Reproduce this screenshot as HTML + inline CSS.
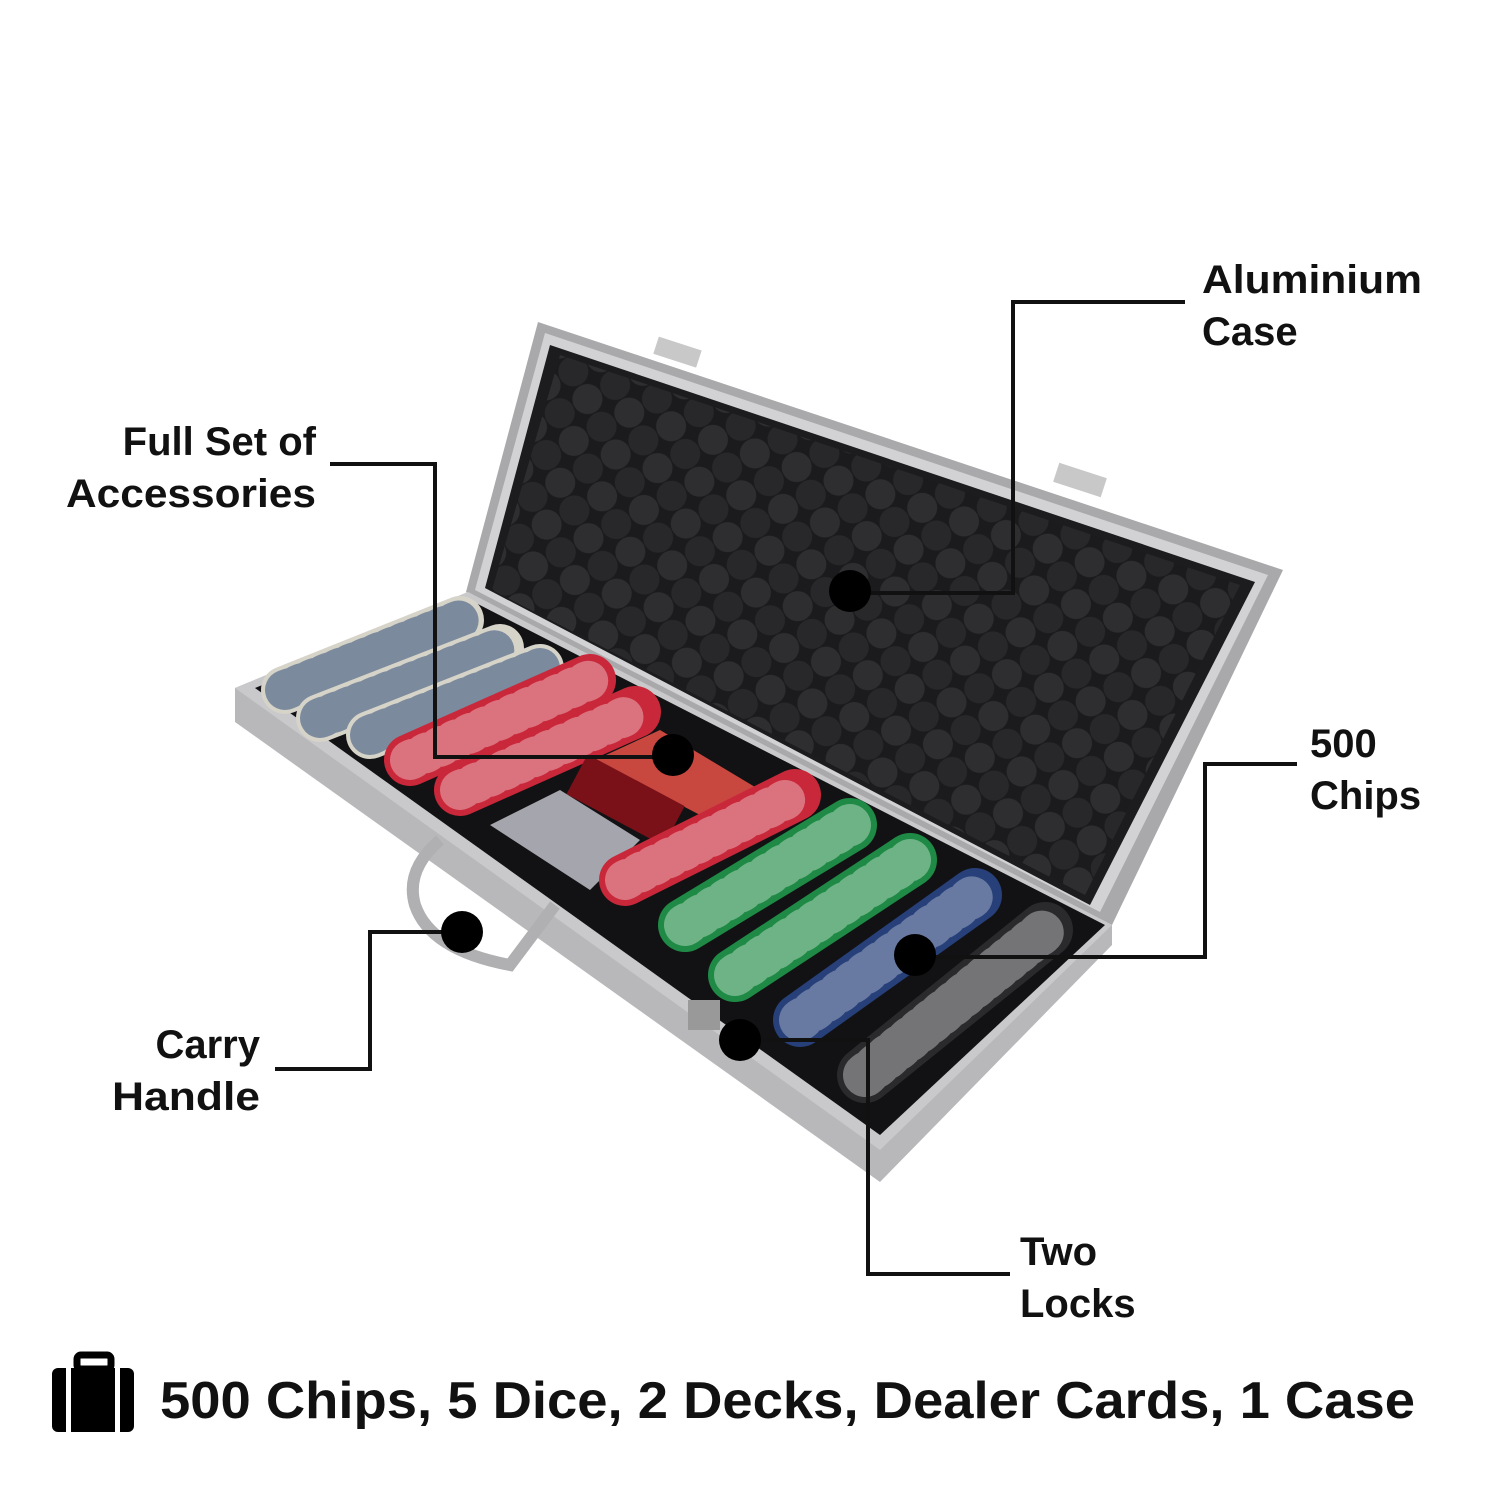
<!DOCTYPE html>
<html><head><meta charset="utf-8"><style>html,body{margin:0;padding:0;background:#fff}svg{display:block}</style></head>
<body>
<svg width="1500" height="1500" viewBox="0 0 1500 1500" xmlns="http://www.w3.org/2000/svg" font-family="Liberation Sans, sans-serif">
<rect width="1500" height="1500" fill="#fff"/>
<defs>
<pattern id="foam" width="44" height="44" patternUnits="userSpaceOnUse" patternTransform="rotate(18)">
<rect width="44" height="44" fill="#1b1b1d"/>
<circle cx="22" cy="22" r="15" fill="#2e2e31"/>
<circle cx="0" cy="0" r="15" fill="#28282b"/><circle cx="44" cy="44" r="15" fill="#28282b"/>
<circle cx="44" cy="0" r="15" fill="#28282b"/><circle cx="0" cy="44" r="15" fill="#28282b"/>
</pattern>
</defs>
<!-- lid -->
<polygon points="538,322 1283,570 1112,925 466,592" fill="#a9a9ab"/>
<polygon points="545,333 1268,575 1100,912 475,590" fill="#d2d2d4"/>
<polygon points="550,345 1255,582 1090,905 485,588" fill="#1c1c1e"/>
<polygon points="560,355 1240,585 1085,895 492,590" fill="url(#foam)"/>
<rect x="655" y="343" width="45" height="18" fill="#c8c8c8" transform="rotate(18 677 352)"/>
<rect x="1055" y="470" width="50" height="20" fill="#c8c8c8" transform="rotate(18 1080 480)"/>
<!-- base -->
<polygon points="235,688 468,592 1112,925 1112,945 880,1182 235,722" fill="#b8b8bb"/>
<polygon points="235,688 468,592 1112,925 880,1150" fill="#c9c9cb"/>
<polygon points="255,688 470,600 1105,925 880,1135" fill="#121214"/>
<!-- chips -->
<g stroke-linecap="round">
<line x1="285" y1="690" x2="460" y2="620" stroke="#d6d3c8" stroke-width="48"/>
<line x1="285" y1="690" x2="460" y2="620" stroke="#3f5a80" stroke-width="40" stroke-dasharray="5 9" opacity=".6"/>
<line x1="320" y1="718" x2="500" y2="648" stroke="#d6d3c8" stroke-width="48"/>
<line x1="320" y1="718" x2="500" y2="648" stroke="#3f5a80" stroke-width="40" stroke-dasharray="5 9" opacity=".6"/>
<line x1="370" y1="735" x2="540" y2="668" stroke="#d6d3c8" stroke-width="48"/>
<line x1="370" y1="735" x2="540" y2="668" stroke="#3f5a80" stroke-width="40" stroke-dasharray="5 9" opacity=".6"/>
<line x1="410" y1="760" x2="590" y2="680" stroke="#c9283a" stroke-width="52"/>
<line x1="410" y1="760" x2="590" y2="680" stroke="#fff" stroke-width="40" stroke-dasharray="3 13" opacity=".35"/>
<line x1="460" y1="790" x2="635" y2="712" stroke="#c9283a" stroke-width="52"/>
<line x1="460" y1="790" x2="635" y2="712" stroke="#fff" stroke-width="40" stroke-dasharray="3 13" opacity=".35"/>
</g>
<polygon points="595,760 660,730 760,790 700,815" fill="#c8473f"/>
<rect x="570" y="775" width="110" height="45" fill="#7a1018" transform="rotate(28 620 800)"/>
<polygon points="490,825 560,790 640,840 590,890" fill="#a5a5ae"/>
<g stroke-linecap="round">
<line x1="625" y1="880" x2="795" y2="795" stroke="#c9283a" stroke-width="52"/>
<line x1="625" y1="880" x2="795" y2="795" stroke="#fff" stroke-width="40" stroke-dasharray="3 13" opacity=".35"/>
<line x1="685" y1="925" x2="850" y2="825" stroke="#1f8a45" stroke-width="54"/>
<line x1="685" y1="925" x2="850" y2="825" stroke="#fff" stroke-width="42" stroke-dasharray="3 13" opacity=".35"/>
<line x1="735" y1="975" x2="910" y2="860" stroke="#1f8a45" stroke-width="54"/>
<line x1="735" y1="975" x2="910" y2="860" stroke="#fff" stroke-width="42" stroke-dasharray="3 13" opacity=".35"/>
<line x1="800" y1="1020" x2="975" y2="895" stroke="#27407a" stroke-width="54"/>
<line x1="800" y1="1020" x2="975" y2="895" stroke="#fff" stroke-width="42" stroke-dasharray="3 13" opacity=".3"/>
<line x1="865" y1="1075" x2="1045" y2="930" stroke="#2a2a2c" stroke-width="56"/>
<line x1="865" y1="1075" x2="1045" y2="930" stroke="#fff" stroke-width="44" stroke-dasharray="3 11" opacity=".35"/>
</g>
<!-- handle -->
<path d="M440,840 Q405,870 415,905 Q430,950 510,965 L555,905" fill="none" stroke="#b0b0b3" stroke-width="12"/>
<rect x="688" y="1000" width="32" height="30" fill="#999"/>
<!-- leader lines -->
<g stroke="#111" stroke-width="4" fill="none">
<polyline points="1185,302 1013,302 1013,593 850,593"/>
<polyline points="330,464 435,464 435,757 675,757"/>
<polyline points="1297,764 1205,764 1205,957 915,957"/>
<polyline points="275,1069 370,1069 370,932 460,932"/>
<polyline points="1010,1274 868,1274 868,1040 740,1040"/>
</g>
<g fill="#000">
<circle cx="850" cy="591" r="21"/><circle cx="673" cy="755" r="21"/>
<circle cx="915" cy="955" r="21"/><circle cx="462" cy="932" r="21"/><circle cx="740" cy="1040" r="21"/>
</g>
<g font-size="40" font-weight="bold" fill="#111">
<text x="1202" y="293" textLength="220" lengthAdjust="spacingAndGlyphs">Aluminium</text><text x="1202" y="345">Case</text>
<text x="316" y="455" text-anchor="end">Full Set of</text><text x="316" y="507" text-anchor="end" textLength="250" lengthAdjust="spacingAndGlyphs">Accessories</text>
<text x="1310" y="757">500</text><text x="1310" y="809">Chips</text>
<text x="260" y="1058" text-anchor="end">Carry</text><text x="260" y="1110" text-anchor="end" textLength="148" lengthAdjust="spacingAndGlyphs">Handle</text>
<text x="1020" y="1265">Two</text><text x="1020" y="1317">Locks</text>
</g>
<rect x="77" y="1355" width="34" height="14" rx="4" fill="none" stroke="#000" stroke-width="7"/>
<rect x="52" y="1368" width="82" height="64" rx="6" fill="#000"/>
<rect x="66" y="1368" width="5" height="64" fill="#fff"/><rect x="115" y="1368" width="5" height="64" fill="#fff"/>
<text x="160" y="1418" font-size="52" font-weight="bold" fill="#111" textLength="1255" lengthAdjust="spacingAndGlyphs">500 Chips, 5 Dice, 2 Decks, Dealer Cards, 1 Case</text>
</svg>
</body></html>
